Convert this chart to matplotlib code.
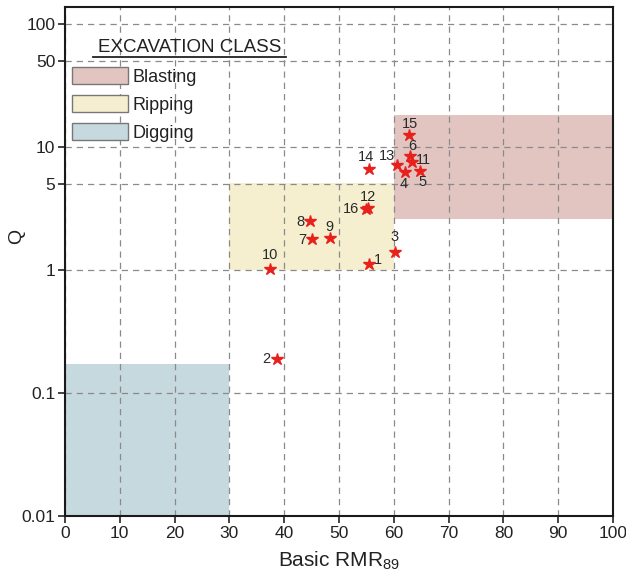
import matplotlib
matplotlib.use('Agg')
import matplotlib.pyplot as plt
from matplotlib.patches import Patch

plt.rcParams['font.family'] = ['Liberation Sans', 'DejaVu Sans']
plt.rcParams['mathtext.fontset'] = 'custom'
plt.rcParams['mathtext.rm'] = 'Liberation Sans'

# sample data
point_ids = ['1', '2', '3', '4', '5', '6', '7', '8', '9', '10', '11', '12', '13', '14', '15', '16']
rmr = [55.5, 38.6, 60.2, 62.1, 64.7, 62.9, 45.1, 44.7, 48.3, 37.4, 63.3, 55.3, 60.5, 55.5, 62.7, 55.0]
q_vals = [1.12, 0.19, 1.40, 6.2, 6.4, 8.5, 1.80, 2.50, 1.83, 1.02, 7.5, 3.2, 7.1, 6.6, 12.5, 3.1]

# excavation classes: (name, rmr range, q range)
class_names = ['Blasting', 'Ripping', 'Digging']
class_rmr = [(60, 100), (30, 60), (0, 30)]
class_q = [(2.57, 18.3), (1.0, 5.1), (0.01, 0.172)]
class_colors = ['#e2c5c1', '#f5efcf', '#c6d9df']

x_ticks = [0, 10, 20, 30, 40, 50, 60, 70, 80, 90, 100]
y_ticks = [0.01, 0.1, 1, 5, 10, 50, 100]
y_tick_labels = ['0.01', '0.1', '1', '5', '10', '50', '100']

# label offsets in points
label_offsets = {
    '1': (6, 3), '2': (-7, 0), '3': (0, 11), '4': (-1, -8), '5': (2, -8),
    '6': (2, 7), '7': (-7, -1), '8': (-7, -1), '9': (0, 8), '10': (0, 10),
    '11': (8, 1.5), '12': (0, 8), '13': (-7, 6.5), '14': (-2, 8.5),
    '15': (1, 8), '16': (-11, 0),
}

fig = plt.figure(figsize=(6.26, 5.85), dpi=100)
ax = fig.add_axes([0.1038, 0.1179, 0.8754, 0.8701])

for name, (x0, x1), (y0, y1), c in zip(class_names, class_rmr, class_q, class_colors):
    ax.fill_between([x0, x1], y0, y1, color=c, lw=0, zorder=1)

ax.plot(rmr, q_vals, ls='none', marker='*', ms=9, color='#e8211d', mec='#e8211d', zorder=4)
for pid, x, y in zip(point_ids, rmr, q_vals):
    dx, dy = label_offsets[pid]
    ax.annotate(pid, (x, y), xytext=(dx, dy), textcoords='offset points',
                ha='center', va='center', fontsize=10.5, color='#2a2a2a', zorder=5)

ax.set_yscale('log')
ax.set_xlim(0, 100)
ax.set_ylim(0.01, 137)
ax.set_xticks(x_ticks)
ax.set_yticks(y_ticks)
ax.set_yticklabels(y_tick_labels)
ax.minorticks_off()
ax.tick_params(labelsize=12.5, length=5, width=1.2, colors='#222222', pad=2)

ax.grid(True, ls=(0, (5, 4)), color='#8a8a8a', lw=0.9)
for s in ax.spines.values():
    s.set_linewidth(1.5)
    s.set_color('#1a1a1a')

ax.set_xlabel('Basic RMR$_{89}$', fontsize=15, color='#222222', labelpad=6)
ax.set_ylabel('Q', fontsize=14, color='#222222', rotation=90)
ax.yaxis.set_label_coords(-0.072, 0.55)

# legend with underlined title
handles = [Patch(facecolor=c, edgecolor='#777777', lw=1.0) for c in class_colors]
leg = ax.legend(handles, class_names, loc='upper left', bbox_to_anchor=(-0.013, 0.911),
                frameon=False, fontsize=13, handlelength=3.1, handleheight=1.1,
                handletextpad=0.25, labelspacing=0.52, borderpad=0.3)
for t in leg.get_texts():
    t.set_color('#222222')
ax.text(0.228, 0.904, 'EXCAVATION CLASS', transform=ax.transAxes, ha='center', va='bottom',
        fontsize=13.5, color='#222222')
ax.plot([0.052, 0.403], [0.901, 0.901], transform=ax.transAxes, color='#222222', lw=1.3,
        clip_on=False)

fig.savefig('out.png', dpi=100)
